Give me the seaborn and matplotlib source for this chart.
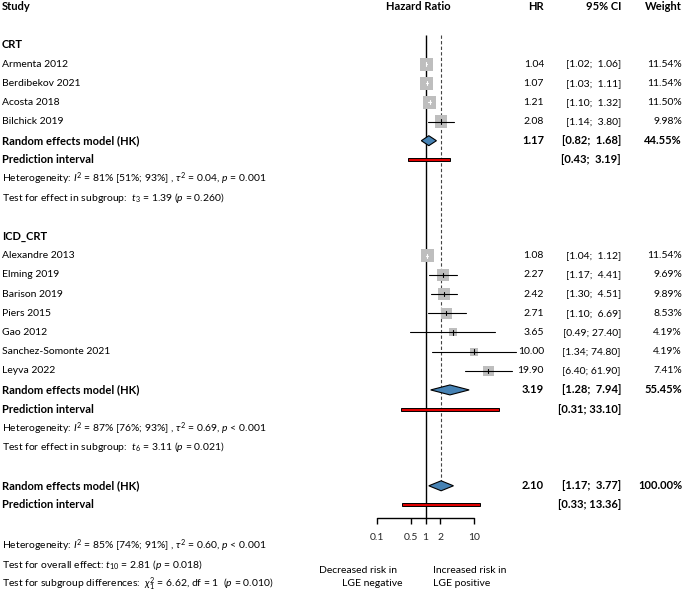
import matplotlib
matplotlib.use("Agg")
import numpy as np
import matplotlib.pyplot as plt
from matplotlib import transforms
from matplotlib.patches import Polygon
import seaborn as sns

# Данные: исследования по подгруппам
studies_crt = ["Armenta 2012", "Berdibekov 2021", "Acosta 2018", "Bilchick 2019"]
hr_crt = [1.04, 1.07, 1.21, 2.08]
lo_crt = [1.02, 1.03, 1.10, 1.14]
hi_crt = [1.06, 1.11, 1.32, 3.80]
w_crt = [11.54, 11.54, 11.50, 9.98]

studies_icd = ["Alexandre 2013", "Elming 2019", "Barison 2019", "Piers 2015",
               "Gao 2012", "Sanchez-Somonte 2021", "Leyva 2022"]
hr_icd = [1.08, 2.27, 2.42, 2.71, 3.65, 10.00, 19.90]
lo_icd = [1.04, 1.17, 1.30, 1.10, 0.49, 1.34, 6.40]
hi_icd = [1.12, 4.41, 4.51, 6.69, 27.40, 74.80, 61.90]
w_icd = [11.54, 9.69, 9.89, 8.53, 4.19, 4.19, 7.41]

# Объединённые оценки (HR, нижняя, верхняя, вес) и интервалы предсказания
re_crt = (1.17, 0.82, 1.68, 44.55)
pi_crt = (0.43, 3.19)
re_icd = (3.19, 1.28, 7.94, 55.45)
pi_icd = (0.31, 33.10)
re_all = (2.10, 1.17, 3.77, 100.00)
pi_all = (0.33, 13.36)

axis_ticks = [0.1, 0.5, 1, 2, 10]
axis_labels = ["0.1", "0.5", "1", "2", "10"]

het_crt = r"Heterogeneity: $I^2$ = 81% [51%; 93%] , $\tau^2$ = 0.04, $p$ = 0.001"
test_crt = r"Test for effect in subgroup:  $t_3$ = 1.39 ($p$ = 0.260)"
het_icd = r"Heterogeneity: $I^2$ = 87% [76%; 93%] , $\tau^2$ = 0.69, $p$ < 0.001"
test_icd = r"Test for effect in subgroup:  $t_6$ = 3.11 ($p$ = 0.021)"
het_all = r"Heterogeneity: $I^2$ = 85% [74%; 91%] , $\tau^2$ = 0.60, $p$ < 0.001"
test_all = r"Test for overall effect: $t_{10}$ = 2.81 ($p$ = 0.018)"
test_sub = r"Test for subgroup differences:  $\chi^2_1$ = 6.62, df = 1  ($p$ = 0.010)"

# Номера строк
rows_crt = [3, 4, 5, 6]
rows_icd = [13, 14, 15, 16, 17, 18, 19]

sns.set_theme(style="white")
plt.rcParams['font.family'] = ['Lato', 'DejaVu Sans']
plt.rcParams['mathtext.fontset'] = 'custom'
plt.rcParams['mathtext.rm'] = 'Lato'
plt.rcParams['mathtext.it'] = 'Lato:italic'
plt.rcParams['mathtext.bf'] = 'Lato:bold'
FS = 7.5
FS_B = 8

W, H = 685, 592
fig = plt.figure(figsize=(W / 100, H / 100), dpi=100)
ax = fig.add_axes([377 / W, 0, 97 / W, 1])
ax.set_xscale('log')
ax.set_xlim(0.1, 10)
ax.set_ylim(30.54, -0.339)
ax.axis('off')

tr = transforms.blended_transform_factory(fig.transFigure, ax.transData)


def txt(xpx, y, s, ha='left', bold=False):
    ax.text(xpx / W, y, s, transform=tr, ha=ha, va='center',
            fontsize=FS_B if bold else FS,
            fontweight='bold' if bold else 'normal', color='black', clip_on=False)


# Заголовки
txt(2, 0, "Study", bold=True)
txt(418, 0, "Hazard Ratio", ha='center', bold=True)
txt(544, 0, "HR", ha='right', bold=True)
txt(621, 0, "95% CI", ha='right', bold=True)
txt(682, 0, "Weight", ha='right', bold=True)

# Опорные линии
ax.vlines(1, 1.49, 26.68, color='black', lw=1.0, clip_on=False)
ax.vlines(re_all[0], 1.49, 25 - 0.26, color='#444444', lw=0.8,
          linestyles=(0, (3, 2)), clip_on=False)


def study_rows(names, hr, lo, hi, w, rows):
    sns.scatterplot(x=hr, y=rows, size=w, sizes=(7.6 * min(w), 7.6 * max(w)),
                    marker='s', color='#BEBEBE', linewidth=0, legend=False,
                    ax=ax, clip_on=False, zorder=2)
    for n, e, l, u, wt, r in zip(names, hr, lo, hi, w, rows):
        half = 6.5 * np.sqrt(wt / 11.54)
        inside = 48.5 * np.log10(u / e) < half and 48.5 * np.log10(e / l) < half
        c = 'white' if inside else 'black'
        ax.plot([l, u], [r, r], color=c, lw=0.8, clip_on=False, zorder=3)
        ax.plot([e, e], [r - 0.11, r + 0.11], color=c, lw=0.8, clip_on=False, zorder=3)
        txt(2, r, n)
        txt(544, r, f"{e:.2f}", ha='right')
        txt(621, r, f"[{l:.2f}; {u:5.2f}]", ha='right')
        txt(682, r, f"{wt:.2f}%", ha='right')


def pooled(est, row, label):
    e, l, u, wt = est
    ax.add_patch(Polygon([(l, row), (e, row - 0.26), (u, row), (e, row + 0.26)],
                         closed=True, facecolor='#4682B4', edgecolor='black',
                         lw=0.8, clip_on=False, zorder=3))
    txt(2, row, label, bold=True)
    txt(544, row, f"{e:.2f}", ha='right', bold=True)
    txt(621, row, f"[{l:.2f}; {u:5.2f}]", ha='right', bold=True)
    txt(682, row, f"{wt:.2f}%", ha='right', bold=True)


def predict(pi, row):
    l, u = pi
    ax.add_patch(Polygon([(l, row - 0.08), (u, row - 0.08), (u, row + 0.08), (l, row + 0.08)],
                         closed=True, facecolor='#E00000', edgecolor='black',
                         lw=0.7, clip_on=False, zorder=3))
    txt(2, row, "Prediction interval", bold=True)
    txt(621, row, f"[{l:.2f}; {u:5.2f}]", ha='right', bold=True)


# Подгруппа CRT
txt(2, 2, "CRT", bold=True)
study_rows(studies_crt, hr_crt, lo_crt, hi_crt, w_crt, rows_crt)
pooled(re_crt, 7, "Random effects model (HK)")
predict(pi_crt, 8)
txt(2, 9, het_crt)
txt(2, 10, test_crt)

# Подгруппа ICD_CRT
txt(2, 12, "ICD_CRT", bold=True)
study_rows(studies_icd, hr_icd, lo_icd, hi_icd, w_icd, rows_icd)
pooled(re_icd, 20, "Random effects model (HK)")
predict(pi_icd, 21)
txt(2, 22, het_icd)
txt(2, 23, test_icd)

# Общий итог
pooled(re_all, 25, "Random effects model (HK)")
predict(pi_all, 26)

# Ось
ax.plot([axis_ticks[0], axis_ticks[-1]], [26.68, 26.68], color='black', lw=1.0, clip_on=False)
ax.vlines(axis_ticks, 26.68, 26.99, color='black', lw=1.0, clip_on=False)
for t, lab in zip(axis_ticks, axis_labels):
    ax.text(t, 27.72, lab, ha='center', va='center', fontsize=FS, clip_on=False)

txt(2, 28.1, het_all)
txt(2, 29.13, test_all)
txt(2, 30.12, test_sub)

txt(397, 29.4, "Decreased risk in", ha='right')
txt(402, 30.12, "LGE negative", ha='right')
txt(433, 29.4, "Increased risk in")
txt(433, 30.12, "LGE positive")

fig.savefig("out.png", dpi=100)
